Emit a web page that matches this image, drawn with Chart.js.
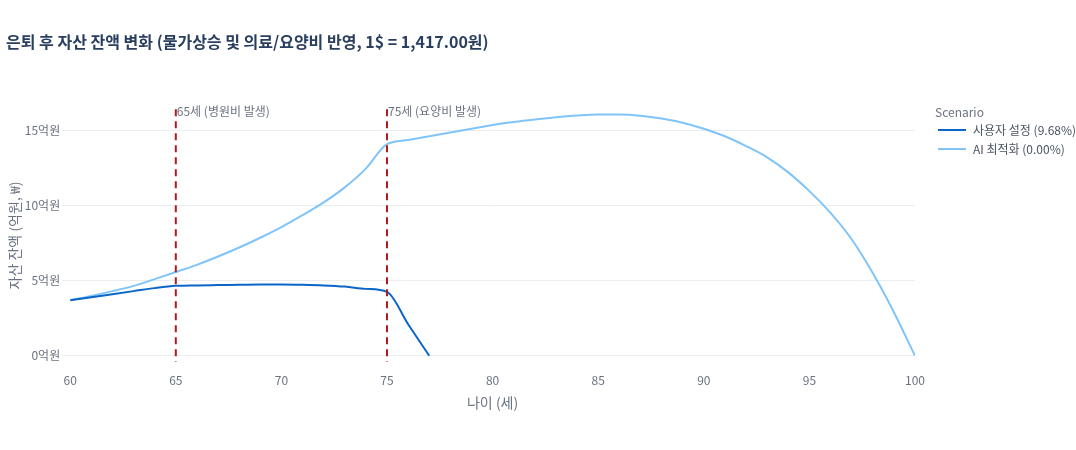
<!DOCTYPE html>
<html><head><meta charset="utf-8">
<script src="https://cdn.jsdelivr.net/npm/chart.js@4"></script>
<style>html,body{margin:0;background:#fff}#wrap{width:1076px;height:450px}</style>
</head><body><div id="wrap"><canvas id="c"></canvas></div>
<script>
// ── Data ──
const ages = [];
for (let a = 60; a <= 100; a++) ages.push(a);
const userValues = [3.7, 3.9, 4.1, 4.3, 4.5, 4.65, 4.68, 4.7, 4.72, 4.74, 4.74, 4.72, 4.68, 4.6, 4.45, 4.25, 2.1, 0];
const aiValues = [3.7, 3.98, 4.3, 4.65, 5.1, 5.57, 6.05, 6.6, 7.2, 7.85, 8.56, 9.35, 10.2, 11.2, 12.45, 14.07,
  14.35, 14.6, 14.85, 15.1, 15.35, 15.55, 15.72, 15.87, 15.98, 16.05, 16.05, 15.97, 15.78, 15.5, 15.1,
  14.6, 13.95, 13.2, 12.2, 10.95, 9.5, 7.75, 5.5, 2.9, 0];
const markers = [{ age: 65, text: '65세 (병원비 발생)' }, { age: 75, text: '75세 (요양비 발생)' }];

const FONT = "'Noto Sans CJK KR', 'Noto Sans', sans-serif";
Chart.defaults.font.family = FONT;
Chart.defaults.color = '#6b7280';

// ── Vertical event lines ──
const eventLines = {
  id: 'eventLines',
  afterDatasetsDraw(chart) {
    const { ctx, chartArea, scales } = chart;
    ctx.save();
    markers.forEach(m => {
      const x = scales.x.getPixelForValue(m.age);
      ctx.strokeStyle = '#b01c1c';
      ctx.lineWidth = 2;
      ctx.setLineDash([7, 5]);
      ctx.beginPath();
      ctx.moveTo(x, chartArea.top);
      ctx.lineTo(x, chartArea.bottom);
      ctx.stroke();
      ctx.setLineDash([]);
      ctx.fillStyle = '#6b7280';
      ctx.font = '12px ' + FONT;
      ctx.textBaseline = 'bottom';
      ctx.fillText(m.text, x + 1, chartArea.top + 8);
    });
    ctx.restore();
  }
};

// ── Legend on the right ──
const sideLegend = {
  id: 'sideLegend',
  afterDraw(chart) {
    const { ctx, chartArea } = chart;
    const x0 = chartArea.right + 20;
    ctx.save();
    ctx.font = '12px ' + FONT;
    ctx.textBaseline = 'middle';
    ctx.fillStyle = '#6b7280';
    ctx.fillText('Scenario', x0, 112);
    chart.data.datasets.forEach((ds, i) => {
      const y = 130 + i * 19;
      ctx.strokeStyle = ds.borderColor;
      ctx.lineWidth = 2;
      ctx.beginPath();
      ctx.moveTo(x0 + 3, y);
      ctx.lineTo(x0 + 31, y);
      ctx.stroke();
      ctx.fillStyle = '#4b5563';
      ctx.fillText(ds.label, x0 + 38, y);
    });
    ctx.restore();
  }
};

new Chart(document.getElementById('c'), {
  type: 'line',
  data: {
    datasets: [
      { label: '사용자 설정 (9.68%)', data: userValues.map((v, i) => ({ x: ages[i], y: v })),
        borderColor: '#0b66c8', borderWidth: 2, pointRadius: 0, cubicInterpolationMode: 'monotone' },
      { label: 'AI 최적화 (0.00%)', data: aiValues.map((v, i) => ({ x: ages[i], y: v })),
        borderColor: '#80c4fa', borderWidth: 2, pointRadius: 0, cubicInterpolationMode: 'monotone' },
    ]
  },
  options: {
    responsive: true, maintainAspectRatio: false, animation: false,
    layout: { padding: { left: 6, right: 161, top: 10, bottom: 35 } },
    plugins: {
      title: { display: true, text: '은퇴 후 자산 잔액 변화 (물가상승 및 의료/요양비 반영, 1$ = 1,417.00원)',
        align: 'start', color: '#2a3f5f', font: { size: 16, weight: 'bold' }, padding: { top: 22, bottom: 58 } },
      legend: { display: false },
      tooltip: { enabled: false }
    },
    scales: {
      x: { type: 'linear', min: 60, max: 100,
        ticks: { stepSize: 5, color: '#6b7280', font: { size: 12 } },
        grid: { display: false }, border: { display: false },
        title: { display: true, text: '나이 (세)', color: '#6b7280', font: { size: 14 } } },
      y: { min: -0.4, max: 16.4, afterBuildTicks: ax => { ax.ticks = [0, 5, 10, 15].map(v => ({ value: v })); },
        ticks: { color: '#6b7280', font: { size: 12 }, callback: v => v + '억원', padding: 2 },
        grid: { color: '#ebedf0' }, border: { display: false },
        title: { display: true, text: '자산 잔액 (억원, ₩)', color: '#6b7280', font: { size: 14 }, padding: 0 } }
    }
  },
  plugins: [eventLines, sideLegend]
});
</script></body></html>
